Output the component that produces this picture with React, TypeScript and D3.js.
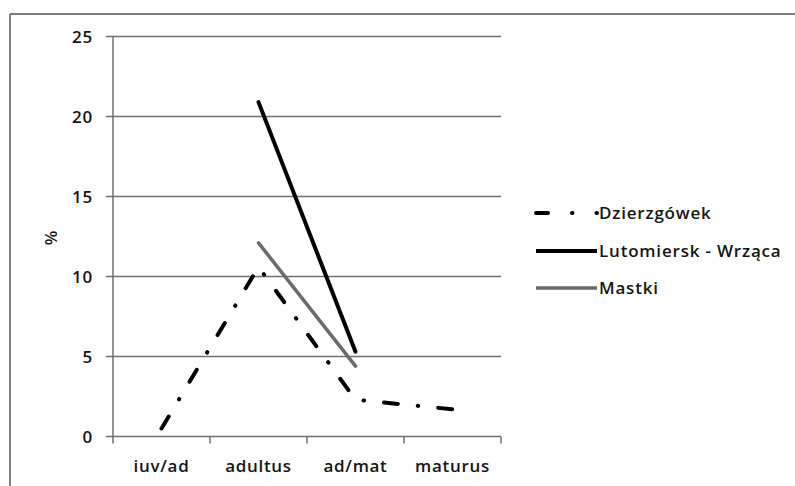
import React from "react";
import * as d3 from "d3";

const categories = ["iuv/ad", "adultus", "ad/mat", "maturus"];
const dzierzgowek = [0.5, 10.6, 2.3, 1.7];
const lutomiersk = [null, 20.9, 5.3, null];
const mastki = [null, 12.1, 4.4, null];
const yTicks = [0, 5, 10, 15, 20, 25];
const seriesNames = ["Dzierzgówek", "Lutomiersk - Wrząca", "Mastki"];

const W = 795;
const H = 486;
const FONT = "'Open Sans', sans-serif";

export default function App() {
  const x = d3.scaleBand<string>().domain(categories).range([113, 501]);
  const y = d3.scaleLinear().domain([0, 25]).range([436.5, 36.5]);
  const cx = (c: string) => (x(c) as number) + x.bandwidth() / 2;

  const line = d3
    .line<number | null>()
    .defined((d) => d !== null)
    .x((_, i) => cx(categories[i]))
    .y((d) => y(d as number));

  const series = [
    { name: seriesNames[0], values: dzierzgowek, color: "#000", width: 4, dash: "14 20 0.5 20", legendDash: "12 24 0.5 24" },
    { name: seriesNames[1], values: lutomiersk, color: "#000", width: 4, dash: undefined, legendDash: undefined },
    { name: seriesNames[2], values: mastki, color: "#6b6b6b", width: 3.5, dash: undefined, legendDash: undefined },
  ];

  const boundaries = [...categories.map((c) => x(c) as number), 501];
  const legendY = [213, 251, 288];
  const textProps = { fontSize: 17, fontWeight: 600, fill: "#151515" } as const;

  return (
    <svg
      width={W}
      height={H}
      style={{ position: "absolute", left: 0, top: 0, background: "#fff" }}
      fontFamily={FONT}
    >
      <rect x={0} y={0} width={W} height={H} fill="#fff" />
      {/* outer border */}
      <line x1={10} y1={14} x2={W + 5} y2={14} stroke="#555" strokeWidth={1.5} />
      <line x1={10} y1={14} x2={10} y2={H + 5} stroke="#555" strokeWidth={1.5} />

      {/* gridlines */}
      {yTicks.filter((t) => t > 0).map((t) => (
        <line key={"g" + t} x1={113} x2={501} y1={y(t)} y2={y(t)} stroke="#707070" strokeWidth={1.5} />
      ))}
      {/* y axis */}
      <line x1={113} x2={113} y1={y(25)} y2={y(0)} stroke="#707070" strokeWidth={1.5} />
      {yTicks.map((t) => (
        <g key={"yt" + t}>
          <line x1={106} x2={113} y1={y(t)} y2={y(t)} stroke="#707070" strokeWidth={1.5} />
          <text x={93} y={y(t) + 6} textAnchor="end" letterSpacing={0.8} {...textProps}>
            {t}
          </text>
        </g>
      ))}
      {/* x axis */}
      <line x1={113} x2={501} y1={y(0)} y2={y(0)} stroke="#707070" strokeWidth={1.5} />
      {boundaries.map((b, i) => (
        <line key={"xt" + i} x1={b} x2={b} y1={y(0)} y2={y(0) + 7} stroke="#707070" strokeWidth={1.5} />
      ))}
      {categories.map((c) => (
        <text key={c} x={cx(c)} y={472} textAnchor="middle" letterSpacing={0.7} {...textProps}>
          {c}
        </text>
      ))}
      <text transform={`translate(57,238) rotate(-90)`} textAnchor="middle" {...textProps}>
        %
      </text>

      {/* series */}
      {series.map((s) => (
        <path
          key={s.name}
          d={line(s.values) || ""}
          fill="none"
          stroke={s.color}
          strokeWidth={s.width}
          strokeDasharray={s.dash}
          strokeLinecap="round"
        />
      ))}

      {/* legend */}
      {series.map((s, i) => (
        <g key={"lg" + s.name}>
          <line
            x1={536}
            x2={597}
            y1={legendY[i]}
            y2={legendY[i]}
            stroke={s.color}
            strokeWidth={s.width}
            strokeDasharray={s.legendDash}
            strokeLinecap={s.legendDash ? "round" : "butt"}
          />
          <text x={599} y={legendY[i] + 6} letterSpacing={0.8} {...textProps}>
            {s.name}
          </text>
        </g>
      ))}
    </svg>
  );
}
